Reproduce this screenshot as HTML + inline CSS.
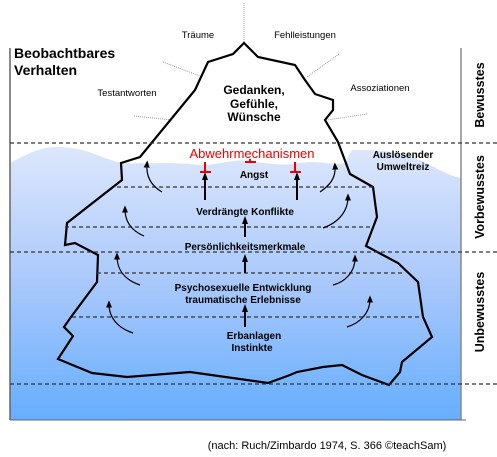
<!DOCTYPE html>
<html><head><meta charset="utf-8"><style>
html,body{margin:0;padding:0;background:#fff;}
svg{display:block;font-family:"Liberation Sans",Arial,sans-serif;}
</style></head><body>
<svg width="497" height="457" viewBox="0 0 497 457" xmlns="http://www.w3.org/2000/svg">
<defs>
<linearGradient id="w" x1="0" y1="0" x2="0" y2="1">
<stop offset="0" stop-color="#dde7fc"/>
<stop offset="0.5" stop-color="#a9c8fb"/>
<stop offset="1" stop-color="#66aefd"/>
</linearGradient>
<marker id="ah" markerWidth="6" markerHeight="6" refX="3" refY="3" orient="auto">
<path d="M0,0.5 L6,3 L0,5.5 Z" fill="#000"/>
</marker>
<marker id="ah2" markerWidth="4" markerHeight="4" refX="2" refY="2" orient="auto">
<path d="M0,0.5 L4,2 L0,3.5 Z" fill="#000"/>
</marker>
</defs>
<path d="M10,163 C25,155 40,147 55,147 C75,147 85,150 105,158 L120,163 C150,164 165,162 190,164 C215,168 230,158 250,161 C270,164 285,166 300,163 C320,160 330,166 345,163 L352,150 C380,150 400,151 420,160 C440,170 450,176 461,178 L461,420 L10,420 Z" fill="url(#w)"/>
<line x1="10" y1="48" x2="10" y2="420" stroke="#666" stroke-width="1.5"/>
<line x1="461" y1="48" x2="461" y2="420" stroke="#888" stroke-width="1.5"/>
<line x1="10" y1="420" x2="466" y2="420" stroke="#666" stroke-width="1"/>
<g stroke="#999" stroke-width="1" stroke-dasharray="1,1">
<line x1="244" y1="3" x2="244" y2="43"/>
<line x1="163" y1="62" x2="200" y2="76"/>
<line x1="134" y1="116" x2="172" y2="120"/>
<line x1="339" y1="54" x2="307" y2="77"/>
<line x1="367" y1="114" x2="327" y2="120"/>
</g>
<path d="M244,43 L258,57 L295,65 L305,80 L315,94 L333,100 L333,110 L325,120 L338,142 L350,174 L373,187 L377,217 L366,246 L398,263 L418,282 L423,317 L432,337 L402,362 L400,372 L389,385 L362,375 L342,365 L323,367 L297,372 L290,375 L268,383 L190,372 L127,377 L92,373 L58,359 L73,336 L64,327 L71,317 L97,282 L98,255 L75,243 L65,245 L67,223 L122,180 L121,163 L140,157 L195,90 L208,62 L233,54 Z" fill="none" stroke="#000" stroke-width="2.2" stroke-linejoin="miter"/>
<g stroke="#333" stroke-width="1.3" stroke-dasharray="4,3">
<line x1="10" y1="143" x2="497" y2="143"/>
<line x1="117" y1="187" x2="373" y2="187"/>
<line x1="65" y1="227" x2="372" y2="227"/>
<line x1="10" y1="252" x2="497" y2="252"/>
<line x1="97" y1="273" x2="405" y2="273"/>
<line x1="72" y1="317" x2="423" y2="317"/>
<line x1="10" y1="384" x2="497" y2="384"/>
</g>
<g stroke="#000" stroke-width="2" fill="none" marker-end="url(#ah2)">
<line x1="205" y1="200" x2="205" y2="176"/>
<line x1="297" y1="200" x2="297" y2="176"/>
<line x1="245" y1="237" x2="245" y2="220"/>
<line x1="245" y1="273" x2="245" y2="258"/>
<line x1="245" y1="327" x2="245" y2="308"/>
</g>
<g stroke="#000" stroke-width="1.2" fill="none" marker-end="url(#ah)">
<path d="M162,192 C150,185 146,175 147,164"/>
<path d="M320,192 C330,185 336,178 335,166"/>
<path d="M144,236 C130,230 125,220 125,209"/>
<path d="M323,228 C340,222 348,210 348,197"/>
<path d="M140,285 C125,280 117,270 117,256"/>
<path d="M333,285 C345,282 355,272 355,258"/>
<path d="M133,333 C118,328 109,318 109,304"/>
<path d="M347,327 C360,323 370,313 370,299"/>
</g>
<g stroke="#e00" stroke-width="2">
<line x1="205" y1="162" x2="205" y2="172"/><line x1="200" y1="172" x2="211" y2="172"/>
<line x1="295" y1="162" x2="295" y2="172"/><line x1="290" y1="172" x2="301" y2="172"/>
<line x1="250" y1="159" x2="250" y2="162"/><line x1="245" y1="162" x2="256" y2="162"/>
</g>
<g font-size="14" font-weight="bold" fill="#000">
<text x="14" y="58">Beobachtbares</text>
<text x="14" y="75">Verhalten</text>
</g>
<g font-size="9.5" fill="#000" text-anchor="middle">
<text x="198" y="38">Träume</text>
<text x="305" y="38">Fehlleistungen</text>
<text x="127" y="96">Testantworten</text>
<text x="380" y="91">Assoziationen</text>
</g>
<g font-size="12" font-weight="bold" text-anchor="middle" fill="#000">
<text x="254" y="94">Gedanken,</text>
<text x="254" y="108">Gefühle,</text>
<text x="254" y="121">Wünsche</text>
</g>
<text x="252" y="158" font-size="13" fill="#e00" text-anchor="middle">Abwehrmechanismen</text>
<g font-size="10" font-weight="bold" text-anchor="middle" fill="#000">
<text x="254" y="178">Angst</text>
<text x="403" y="158">Auslösender</text>
<text x="403" y="170">Umweltreiz</text>
<text x="245" y="215">Verdrängte Konflikte</text>
<text x="245" y="250">Persönlichkeitsmerkmale</text>
<text x="243" y="291">Psychosexuelle Entwicklung</text>
<text x="243" y="303">traumatische Erlebnisse</text>
<text x="254" y="339">Erbanlagen</text>
<text x="252" y="351">Instinkte</text>
</g>
<g font-size="12.5" font-weight="bold" text-anchor="middle" fill="#000">
<text transform="translate(484,95) rotate(-90)">Bewusstes</text>
<text transform="translate(484,197) rotate(-90)">Vorbewusstes</text>
<text transform="translate(484,312) rotate(-90)">Unbewusstes</text>
</g>
<text x="327" y="449" font-size="11" text-anchor="middle" fill="#000">(nach: Ruch/Zimbardo 1974, S. 366 ©teachSam)</text>
</svg>
</body></html>
